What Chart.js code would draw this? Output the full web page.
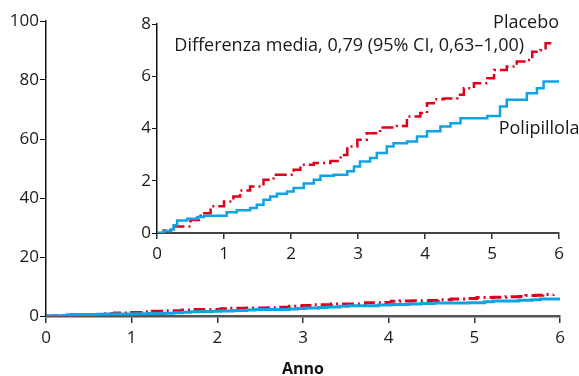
<!DOCTYPE html>
<html>
<head>
<meta charset="utf-8">
<script src="https://cdn.jsdelivr.net/npm/chart.js@4"></script>
<style>
  html, body { margin: 0; padding: 0; background: #fff; }
  #wrap { position: relative; width: 579px; height: 376px; }
  #main { position: absolute; left: 0; top: 0; }
  #inset { position: absolute; left: 130px; top: 0; }
</style>
</head>
<body>
<div id="wrap">
  <canvas id="main" width="579" height="376"></canvas>
  <canvas id="inset" width="449" height="268"></canvas>
</div>
<script>
// step points (year, cumulative %)
var placeboX = [0, 0.1, 0.25, 0.5, 0.65, 0.8, 1.0, 1.14, 1.24, 1.39, 1.59, 1.74, 2.04, 2.14, 2.34, 2.59, 2.74, 2.84, 2.99, 3.13, 3.33, 3.58, 3.73, 3.93, 4.03, 4.13, 4.28, 4.48, 4.58, 4.73, 4.93, 5.03, 5.22, 5.37, 5.52, 5.6, 5.72, 5.8, 5.92];
var placeboY = [0, 0.1, 0.25, 0.5, 0.76, 1.02, 1.21, 1.4, 1.63, 1.78, 2.04, 2.23, 2.42, 2.61, 2.68, 2.76, 2.99, 3.31, 3.57, 3.82, 4.04, 4.1, 4.46, 4.59, 4.97, 5.12, 5.15, 5.29, 5.54, 5.73, 5.92, 6.24, 6.37, 6.56, 6.62, 6.94, 7.0, 7.26, 7.29];

var polipX = [0, 0.1, 0.2, 0.25, 0.3, 0.45, 0.6, 0.7, 1.04, 1.19, 1.39, 1.49, 1.59, 1.69, 1.79, 1.94, 2.04, 2.19, 2.34, 2.44, 2.64, 2.84, 2.94, 3.03, 3.18, 3.28, 3.43, 3.53, 3.73, 3.88, 4.03, 4.23, 4.38, 4.53, 4.93, 5.12, 5.22, 5.52, 5.67, 5.77, 6.0];
var polipY = [0, 0.08, 0.13, 0.3, 0.48, 0.55, 0.61, 0.66, 0.79, 0.87, 0.96, 1.08, 1.27, 1.4, 1.5, 1.59, 1.72, 1.89, 2.04, 2.19, 2.23, 2.36, 2.55, 2.74, 2.87, 3.06, 3.31, 3.44, 3.5, 3.69, 3.89, 4.08, 4.2, 4.39, 4.48, 4.84, 5.1, 5.35, 5.54, 5.8, 5.82];

var mainYTicks = [0, 20, 40, 60, 80, 100];
var insetYTicks = [0, 2, 4, 6, 8];
var xTicks = [0, 1, 2, 3, 4, 5, 6];

var labelPlacebo = 'Placebo';
var labelPolip = 'Polipillola';
var labelDiff = 'Differenza media, 0,79 (95% CI, 0,63\u20131,00)';
var xTitle = 'Anno';

var RED = '#e0001b';
var BLUE = '#0ea4e4';
var FONT = '"Open Sans", sans-serif';

function toPts(xs, ys) {
  return xs.map((x, i) => ({ x: x, y: ys[i] }));
}

function lineSets(width) {
  return [
    {
      label: labelPolip,
      data: toPts(polipX, polipY),
      borderColor: BLUE,
      borderWidth: width,
      stepped: 'before',
      pointRadius: 0,
      fill: false
    },
    {
      label: labelPlacebo,
      data: toPts(placeboX, placeboY),
      borderColor: RED,
      borderWidth: width,
      borderDash: [12, 4, 2, 4],
      stepped: 'before',
      pointRadius: 0,
      fill: false
    }
  ];
}

function fixedTicks(vals) {
  return function (scale) {
    scale.ticks = vals.map(v => ({ value: v }));
  };
}

var tickFont = { family: FONT, size: 17 };

new Chart(document.getElementById('main').getContext('2d'), {
  type: 'line',
  data: { datasets: lineSets(3) },
  options: {
    responsive: false,
    animation: false,
    layout: { padding: { top: 21, right: 19, bottom: 0, left: 0 } },
    plugins: { legend: { display: false }, tooltip: { enabled: false } },
    scales: {
      x: {
        type: 'linear',
        min: 0,
        max: 6,
        afterBuildTicks: fixedTicks(xTicks),
        afterFit: s => { s.height = 60; },
        border: { display: true, color: '#555', width: 2.5 },
        grid: { drawOnChartArea: false, drawTicks: true, tickLength: 7, color: '#333', lineWidth: 1.5 },
        ticks: { color: '#1a1a1a', font: tickFont, padding: 5, maxRotation: 0 },
        title: { display: true, text: xTitle, color: '#111', font: { family: FONT, size: 16, weight: 'bold' }, padding: { top: 0, bottom: -3 } }
      },
      y: {
        min: 0,
        max: 100,
        afterBuildTicks: fixedTicks(mainYTicks),
        afterFit: s => { s.width = 46; },
        border: { display: true, color: '#111', width: 1.5 },
        grid: { drawOnChartArea: false, drawTicks: true, tickLength: 6, color: '#111', lineWidth: 1 },
        ticks: { color: '#1a1a1a', font: tickFont, padding: 1 }
      }
    }
  }
});

var insetText = {
  id: 'insetText',
  afterDraw(chart) {
    const ctx = chart.ctx;
    const x = chart.scales.x, y = chart.scales.y;
    ctx.save();
    ctx.font = '18px ' + FONT;
    ctx.fillStyle = '#1a1a1a';
    ctx.textBaseline = 'middle';
    ctx.textAlign = 'right';
    ctx.fillText(labelPlacebo, x.getPixelForValue(6), y.getPixelForValue(8.05));
    ctx.fillText(labelDiff, x.getPixelForValue(5.48), y.getPixelForValue(7.15));
    ctx.textAlign = 'left';
    ctx.fillText(labelPolip, x.getPixelForValue(5.1), y.getPixelForValue(4.0));
    ctx.restore();
  }
};

new Chart(document.getElementById('inset').getContext('2d'), {
  type: 'line',
  data: { datasets: lineSets(2.5) },
  plugins: [insetText],
  options: {
    responsive: false,
    animation: false,
    layout: { padding: { top: 24, right: 20, bottom: 0, left: 0 } },
    plugins: { legend: { display: false }, tooltip: { enabled: false } },
    scales: {
      x: {
        type: 'linear',
        min: 0,
        max: 6,
        afterBuildTicks: fixedTicks(xTicks),
        afterFit: s => { s.height = 35; },
        border: { display: true, color: '#444', width: 2 },
        grid: { drawOnChartArea: false, drawTicks: true, tickLength: 6, color: '#333', lineWidth: 1.5 },
        ticks: { color: '#1a1a1a', font: tickFont, padding: 5, maxRotation: 0 }
      },
      y: {
        min: 0,
        max: 8,
        afterBuildTicks: fixedTicks(insetYTicks),
        afterFit: s => { s.width = 27; },
        border: { display: true, color: '#111', width: 1.5 },
        grid: { drawOnChartArea: false, drawTicks: true, tickLength: 5, color: '#111', lineWidth: 1 },
        ticks: { color: '#1a1a1a', font: tickFont, padding: 1 }
      }
    }
  }
});
</script>
</body>
</html>
